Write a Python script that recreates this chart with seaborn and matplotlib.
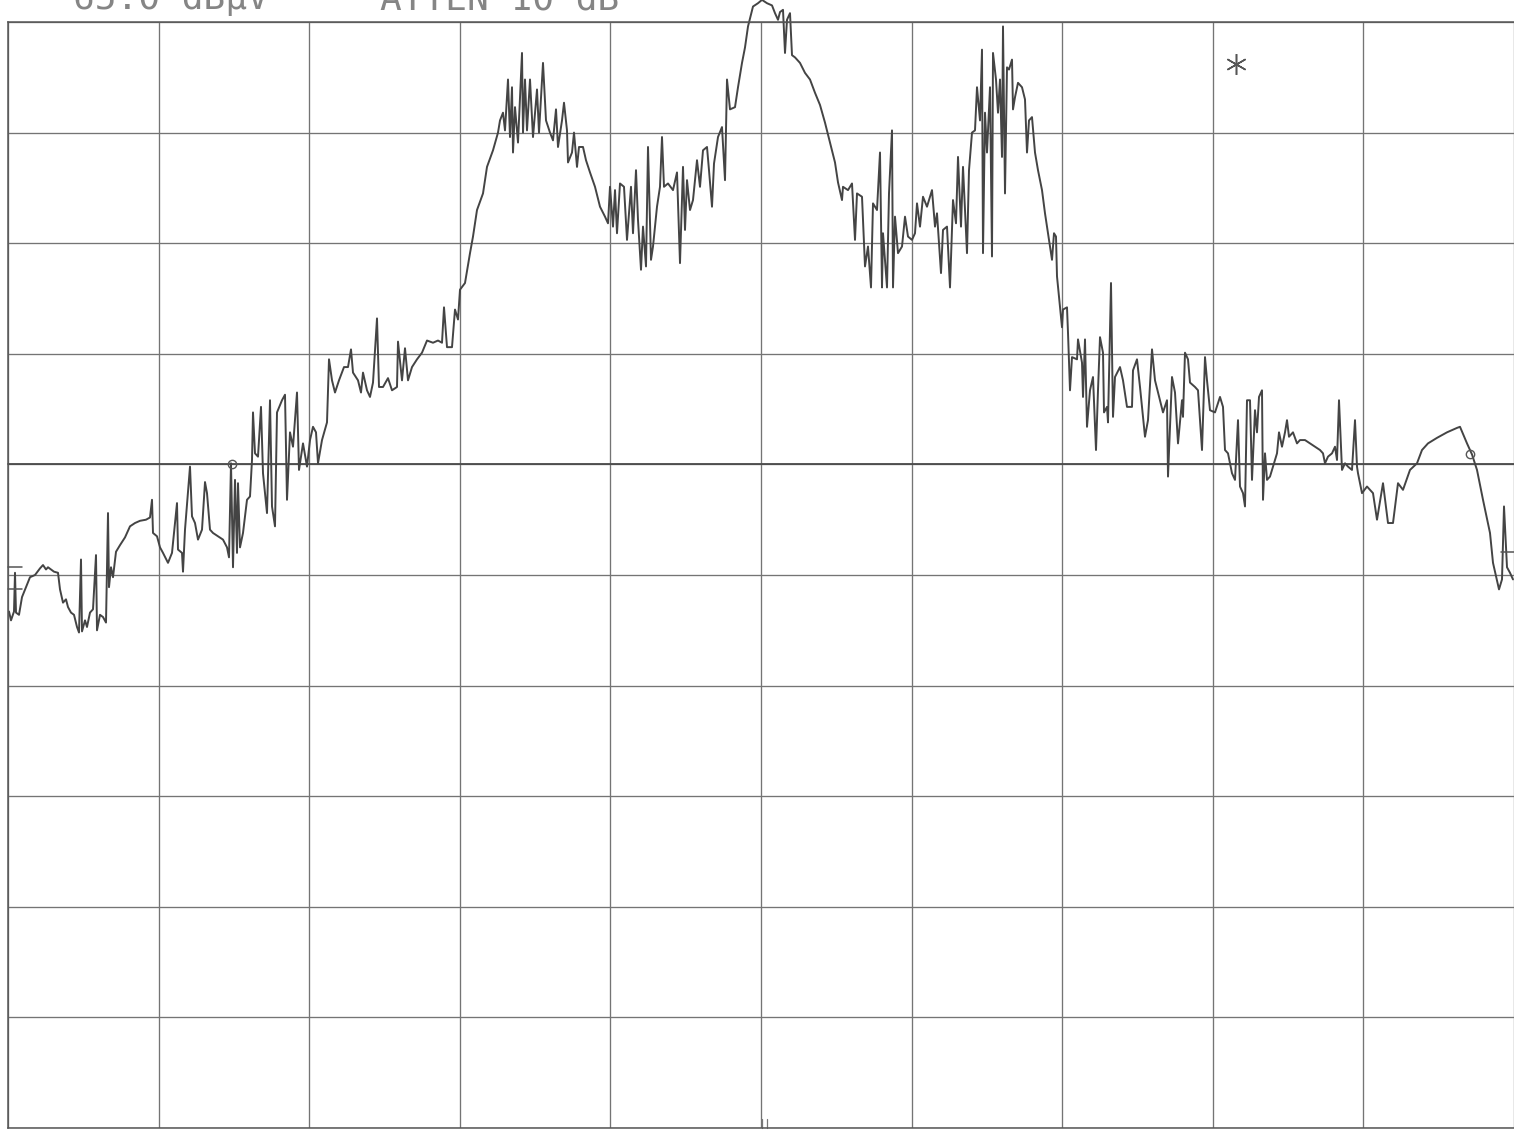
import numpy as np
import pandas as pd
import matplotlib
matplotlib.use("Agg")
import matplotlib.pyplot as plt
import seaborn as sns

# Spectrum analyzer trace: sweep point vs. level (dBuV), 10 dB/div, reference 65 dBuV
ref_level = 65.0
db_per_div = 10.0
n_points = 1506

sweep_point = [
    1, 3, 6, 7, 8, 11, 14, 18, 22, 27, 32, 35, 38, 40, 43, 46, 50, 52, 55, 58,
    60, 63, 66, 69, 71, 73, 74, 77, 79, 82, 85, 88, 89, 92, 95, 98, 100, 101, 103, 105,
    108, 112, 117, 122, 127, 132, 138, 142, 144, 145, 149, 152, 155, 160, 164, 169, 170, 174, 175, 177,
    182, 184, 187, 190, 194, 197, 199, 202, 205, 210, 215, 219, 221, 223, 225, 227, 229, 230, 232, 235,
    239, 242, 244, 245, 247, 250, 253, 255, 259, 262, 264, 267, 269, 274, 277, 279, 282, 285, 289, 291,
    295, 299, 302, 305, 308, 310, 314, 319, 321, 324, 327, 331, 336, 340, 343, 345, 350, 353, 355, 359,
    362, 365, 369, 371, 375, 380, 384, 389, 390, 394, 397, 400, 404, 409, 414, 419, 425, 430, 434, 436,
    439, 444, 447, 450, 452, 457, 462, 465, 469, 475, 479, 485, 490, 492, 495, 497, 500, 502, 504, 505,
    507, 510, 514, 515, 517, 519, 522, 525, 529, 531, 535, 538, 542, 545, 548, 550, 554, 556, 559, 560,
    564, 566, 569, 571, 575, 578, 582, 587, 592, 597, 600, 602, 605, 607, 609, 612, 616, 619, 623, 625,
    628, 630, 633, 635, 638, 640, 643, 645, 649, 652, 654, 656, 660, 665, 669, 672, 675, 677, 679, 682,
    685, 689, 692, 695, 699, 701, 704, 706, 710, 714, 717, 719, 722, 727, 730, 734, 737, 740, 745, 750,
    754, 759, 764, 767, 770, 772, 775, 777, 779, 782, 784, 787, 792, 797, 802, 807, 812, 817, 822, 827,
    830, 834, 835, 840, 844, 847, 849, 854, 857, 860, 863, 865, 869, 872, 874, 875, 879, 881, 884, 885,
    887, 890, 894, 897, 900, 904, 907, 909, 912, 915, 919, 924, 927, 929, 933, 935, 939, 942, 945, 948,
    950, 953, 955, 959, 961, 964, 967, 969, 972, 974, 975, 977, 979, 982, 984, 985, 988, 990, 992, 994,
    995, 997, 999, 1001, 1004, 1005, 1007, 1010, 1014, 1017, 1019, 1021, 1024, 1027, 1030, 1034, 1037, 1040, 1044, 1046,
    1048, 1049, 1052, 1054, 1055, 1059, 1060, 1062, 1064, 1069, 1070, 1074, 1075, 1077, 1079, 1082, 1085, 1088, 1090, 1092,
    1095, 1096, 1099, 1100, 1103, 1105, 1107, 1112, 1115, 1119, 1124, 1125, 1129, 1132, 1137, 1140, 1144, 1147, 1150, 1155,
    1159, 1160, 1164, 1167, 1170, 1174, 1175, 1177, 1180, 1182, 1187, 1190, 1194, 1197, 1199, 1202, 1207, 1212, 1215, 1217,
    1220, 1224, 1227, 1230, 1232, 1235, 1237, 1239, 1242, 1244, 1247, 1249, 1251, 1254, 1255, 1257, 1259, 1262, 1265, 1269,
    1271, 1274, 1277, 1279, 1281, 1285, 1289, 1292, 1297, 1302, 1307, 1312, 1315, 1317, 1320, 1324, 1327, 1329, 1331, 1334,
    1337, 1340, 1344, 1347, 1349, 1350, 1354, 1359, 1365, 1369, 1375, 1380, 1385, 1390, 1395, 1402, 1409, 1414, 1420, 1429,
    1439, 1449, 1452, 1459, 1464, 1469, 1475, 1482, 1485, 1491, 1494, 1496, 1499, 1502, 1505,
]

level_dbuv = [
    11.7, 10.9, 11.7, 15.2, 11.6, 11.4, 13.0, 13.9, 14.8, 15.0, 15.6, 15.9, 15.5, 15.7, 15.5, 15.3, 15.2, 13.7, 12.5, 12.8,
    12.1, 11.6, 11.4, 10.3, 9.8, 16.4, 9.9, 10.9, 10.3, 11.6, 11.9, 16.8, 10.0, 11.4, 11.2, 10.7, 20.6, 13.9, 15.7, 14.8,
    17.1, 17.7, 18.4, 19.4, 19.7, 19.9, 20.0, 20.2, 21.8, 18.8, 18.5, 17.5, 17.0, 16.1, 17.0, 21.5, 17.3, 17.0, 15.3, 19.1,
    24.8, 20.3, 19.7, 18.2, 19.1, 23.4, 22.4, 19.1, 18.8, 18.5, 18.2, 17.5, 16.6, 25.1, 15.7, 23.6, 17.0, 23.3, 17.5, 18.8,
    21.8, 22.1, 25.4, 29.7, 26.0, 25.7, 30.2, 24.2, 20.6, 30.8, 21.2, 19.4, 29.7, 30.8, 31.3, 21.8, 27.9, 26.6, 31.5, 24.5,
    26.9, 24.8, 27.2, 28.4, 27.9, 25.1, 27.2, 28.8, 34.5, 32.6, 31.5, 32.6, 33.8, 33.8, 35.4, 33.3, 32.6, 31.5, 33.3, 31.7,
    31.1, 32.4, 38.2, 32.0, 32.0, 32.8, 31.7, 32.0, 36.1, 32.6, 35.5, 32.6, 33.8, 34.5, 35.1, 36.2, 36.0, 36.2, 36.0, 39.2,
    35.6, 35.6, 39.0, 38.1, 40.8, 41.4, 44.1, 45.6, 48.0, 49.5, 51.9, 53.4, 55.0, 56.1, 56.8, 55.2, 59.8, 54.6, 59.1, 53.2,
    57.3, 54.1, 62.2, 55.0, 59.8, 55.2, 59.8, 54.6, 58.9, 55.0, 61.3, 56.1, 55.0, 54.3, 57.1, 53.7, 56.1, 57.7, 55.2, 52.3,
    53.2, 55.0, 51.9, 53.7, 53.7, 52.5, 51.4, 50.1, 48.3, 47.4, 46.8, 50.1, 46.5, 49.8, 45.9, 50.4, 50.1, 45.3, 50.1, 45.9,
    51.6, 47.1, 42.6, 46.5, 42.9, 53.7, 43.5, 44.7, 48.3, 50.1, 54.6, 50.1, 50.4, 49.8, 51.4, 43.2, 51.9, 46.2, 50.7, 48.0,
    48.9, 52.5, 50.1, 53.4, 53.7, 51.6, 48.3, 52.2, 54.6, 55.5, 50.7, 59.8, 57.1, 57.3, 59.1, 61.3, 62.7, 64.6, 66.4, 66.7,
    67.0, 66.7, 66.5, 65.8, 65.2, 65.9, 66.1, 62.2, 65.2, 65.8, 62.0, 61.8, 61.3, 60.4, 59.8, 58.6, 57.5, 55.9, 54.1, 52.3,
    50.5, 48.9, 50.1, 49.8, 50.4, 45.3, 49.5, 49.2, 42.9, 44.7, 41.0, 48.6, 48.0, 53.2, 41.0, 45.9, 41.0, 49.5, 55.2, 41.0,
    47.4, 44.1, 44.7, 47.4, 45.6, 45.3, 45.9, 48.6, 46.5, 49.2, 48.3, 49.8, 46.5, 47.7, 42.3, 46.2, 46.5, 41.0, 48.9, 46.8,
    52.8, 46.5, 51.9, 44.1, 51.6, 55.0, 55.2, 59.1, 56.1, 62.5, 44.1, 56.8, 53.2, 59.1, 43.8, 62.2, 59.8, 56.8, 59.8, 52.8,
    64.6, 49.5, 60.9, 60.7, 61.6, 57.1, 58.2, 59.5, 59.1, 58.0, 53.2, 56.1, 56.4, 53.2, 51.6, 49.8, 47.7, 45.9, 43.5, 45.9,
    45.6, 42.0, 39.2, 37.4, 39.0, 39.2, 36.9, 31.7, 34.7, 34.5, 36.3, 34.2, 31.1, 36.3, 28.4, 31.7, 32.9, 26.3, 31.7, 36.5,
    35.1, 29.7, 30.2, 28.8, 41.4, 29.3, 32.9, 33.8, 32.6, 30.2, 30.2, 33.5, 34.5, 32.0, 27.5, 29.0, 35.4, 32.6, 31.5, 29.7,
    30.8, 23.9, 32.9, 31.5, 26.9, 30.8, 29.3, 35.1, 34.5, 32.4, 32.0, 31.7, 26.3, 34.7, 32.6, 29.9, 29.7, 31.1, 30.2, 26.3,
    26.0, 24.2, 23.6, 29.0, 23.0, 22.4, 21.2, 30.8, 30.8, 23.6, 29.9, 27.9, 31.1, 31.7, 21.8, 26.0, 23.6, 23.9, 24.8, 26.0,
    27.9, 26.6, 27.9, 29.0, 27.5, 27.9, 26.9, 27.2, 27.2, 26.9, 26.6, 26.3, 26.0, 25.1, 25.7, 26.0, 26.6, 25.4, 30.8, 24.5,
    25.1, 24.8, 24.5, 29.0, 24.8, 24.2, 22.4, 23.0, 22.4, 20.0, 23.3, 19.7, 19.7, 23.3, 22.7, 24.5, 25.1, 26.3, 26.9, 27.4,
    27.9, 28.3, 28.4, 26.9, 25.9, 24.5, 21.8, 18.8, 16.1, 13.7, 14.6, 21.2, 15.7, 15.2, 14.6,
]

# Trace annotations
marker_point = [1228]
marker_level = [61.2]
cursor_points = [224, 1462]
cursor_levels = [25.0, 25.9]

header_ref = "65.0 dBµV"
header_atten = "ATTEN 10 dB"

trace = pd.DataFrame({"point": sweep_point, "level": level_dbuv})

sns.set_theme(style="white")
plt.rcParams["font.family"] = ["DejaVu Sans Mono", "DejaVu Sans"]

W, H = 1514, 1131
fig = plt.figure(figsize=(W / 100, H / 100), dpi=100)
fig.patch.set_facecolor("white")
ax = fig.add_axes([8 / W, 3 / H, 1506 / W, 1106 / H])

grid_col = "#747474"
ax.set_xlim(0, n_points)
ax.set_ylim(ref_level - 10 * db_per_div, ref_level)
ax.set_xticks(np.linspace(0, n_points, 11))
ax.set_yticks(np.arange(ref_level - 10 * db_per_div, ref_level + 0.1, db_per_div))
ax.tick_params(left=False, bottom=False, labelleft=False, labelbottom=False)
ax.grid(True, color=grid_col, linewidth=0.95)
ax.set_axisbelow(True)
for side, sp in ax.spines.items():
    sp.set_color("#555555")
    sp.set_linewidth(1.1)
ax.spines["right"].set_visible(False)
# centre line drawn a bit heavier
ax.axhline(ref_level - 4 * db_per_div, color="#4a4a4a", linewidth=1.3, zorder=1)

sns.lineplot(data=trace, x="point", y="level", ax=ax, sort=False, estimator=None,
             color="#444444", linewidth=1.4, legend=False)
for ln in ax.lines:
    ln.set_clip_on(False)

# marker asterisk and cursor symbols
ax.plot(marker_point, marker_level, linestyle="none", marker=(6, 2, 0),
        markersize=15, markeredgewidth=1.1, color="#555555", clip_on=False)
ax.plot(cursor_points, cursor_levels, linestyle="none", marker="o", markersize=6,
        markerfacecolor="none", markeredgecolor="#555555", markeredgewidth=1.0)

# reference-level brackets at the edges
ax.plot([0, 14], [15.7, 15.7], color="#555555", linewidth=1.1, clip_on=False)
ax.plot([0, 14], [13.7, 13.7], color="#555555", linewidth=1.1, clip_on=False)
ax.plot([1493, 1506], [17.1, 17.1], color="#555555", linewidth=1.1, clip_on=False)

# centre-frequency tick at the bottom edge
for p in (754, 759):
    ax.plot([p, p], [-35, -34.2], color="#777777", linewidth=0.9, clip_on=False)

# header line, running off the top edge of the plot
fig.text(73 / W, 1 - 9 / H, header_ref, fontsize=26, color="#858585",
         va="baseline", ha="left", family="DejaVu Sans Mono")
fig.text(380 / W, 1 - 9 / H, header_atten, fontsize=26, color="#858585",
         va="baseline", ha="left", family="DejaVu Sans Mono")

ax.set_xlabel("")
ax.set_ylabel("")
fig.savefig("out.png", dpi=100, facecolor="white")
